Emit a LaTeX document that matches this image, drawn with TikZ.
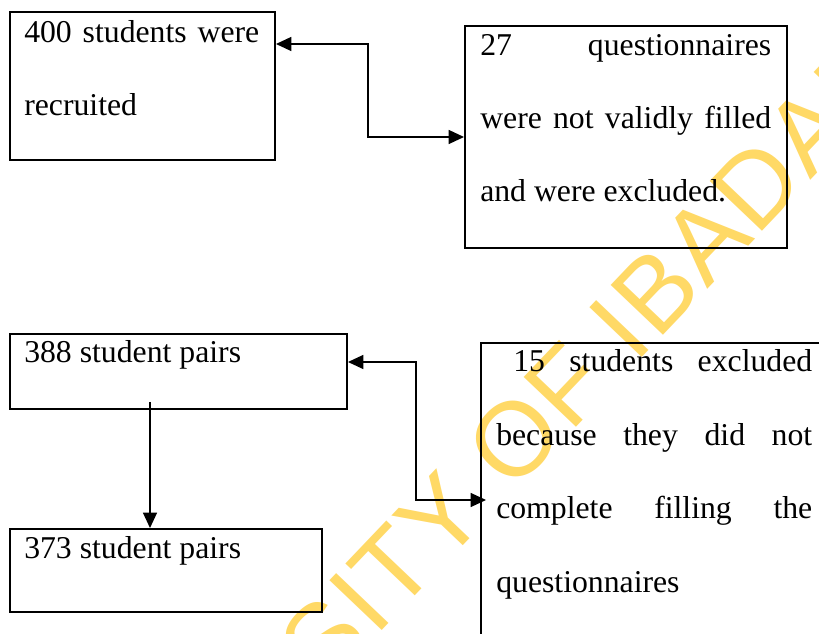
\documentclass[tikz,border=0pt]{standalone}
\usepackage{fontspec}
\setmainfont{Liberation Serif}
\newfontfamily\wmfont{Liberation Sans}[LetterSpace=2]
\usetikzlibrary{arrows.meta}
\definecolor{wm}{RGB}{255,217,102}
\begin{document}
\begin{tikzpicture}[x=0.75pt,y=-0.75pt,
  box/.style={draw,line width=1.5pt,inner sep=0pt},
  txt/.style={anchor=base west,inner sep=0pt,font=\fontsize{23.8}{28}\selectfont},
  conn/.style={line width=1pt,{Triangle[length=11.5pt,width=10.5pt]}-{Triangle[length=11.5pt,width=10.5pt]}},
  oneway/.style={line width=1pt,-{Triangle[length=11.5pt,width=10.5pt]}},
  wmark/.style={rotate=46.4,anchor=base,text=wm,inner sep=0pt,font=\wmfont\fontsize{78.75}{78.75}\selectfont}]
\useasboundingbox (0,0) rectangle (819,634);
\clip (0,0) rectangle (819,634);
\fill[white] (0,0) rectangle (819,634);
% watermark
\node[wmark] (wm) at (478,530) {UNIVERSITY OF IBADAN};
% boxes
\node[box, minimum width={265*0.75pt}, minimum height={148*0.75pt}] (A) at (142.5,86) {};
\node[box, minimum width={322*0.75pt}, minimum height={222*0.75pt}] (B) at (626,137) {};
\node[box, minimum width={337*0.75pt}, minimum height={75*0.75pt}] (C) at (178.5,371.5) {};
\node[box, minimum width={312*0.75pt}, minimum height={83*0.75pt}] (D) at (166,570.5) {};
\node[box, minimum width={369*0.75pt}, minimum height={314*0.75pt}] (E) at (665.5,500) {};
% texts
\node[txt] (a1) at (24,43) {\makebox[176.25pt][s]{400 students were}};
\node[txt] (a2) at (24,116) {recruited};
\node[txt] (b1) at (480,56) {\makebox[218.25pt][s]{27 questionnaires}};
\node[txt] (b2) at (480,129) {\makebox[218.25pt][s]{were not validly filled}};
\node[txt] (b3) at (480,202) {and were excluded.};
\node[txt] (c1) at (24,363) {388 student pairs};
\node[txt] (d1) at (24,559) {373 student pairs};
\node[txt] (e1) at (513,372) {\makebox[224.25pt][s]{15 students excluded}};
\node[txt] (e2) at (496,446) {\makebox[237pt][s]{because they did not}};
\node[txt] (e3) at (496,519) {\makebox[237pt][s]{complete filling the}};
\node[txt] (e4) at (496,593) {questionnaires};
% connectors
\coordinate (k1) at (368,44);
\draw[conn] (A.east |- k1) -- (k1) |- (B.west);
\coordinate (k2) at (416,362);
\draw[conn] (C.east |- k2) -- (k2) |- ([xshift=4.5pt]E.west);
\coordinate (k3) at (150,402);
\draw[oneway] (k3) -- (k3 |- D.north);
\end{tikzpicture}
\end{document}
